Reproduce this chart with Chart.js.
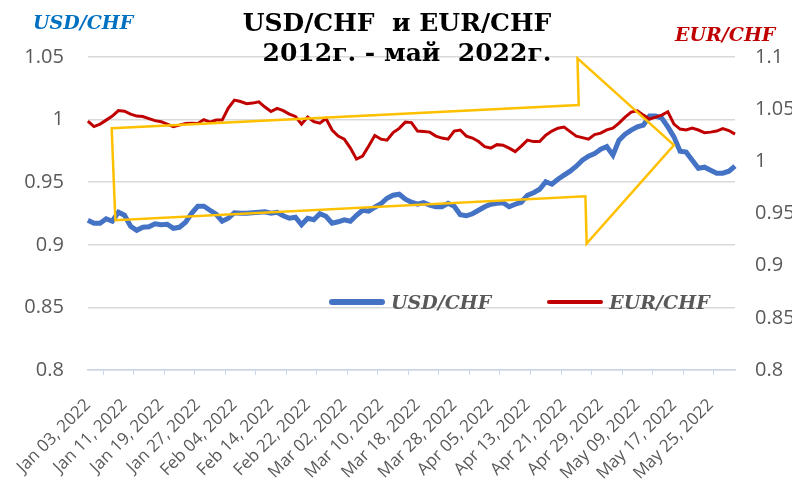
<!DOCTYPE html>
<html>
<head>
<meta charset="utf-8">
<script src="https://cdn.jsdelivr.net/npm/chart.js@4"></script>
<style>
  html, body { margin: 0; padding: 0; background: #fff; }
  #wrap { position: relative; width: 792px; height: 480px; overflow: hidden; }
  .ttl { position: absolute; width: 420px; text-align: center; white-space: pre;
         font: bold 25px "DejaVu Serif", serif; color: #000; line-height: 30px; }
  .axt { position: absolute; white-space: pre; font: italic bold 19px "DejaVu Serif", serif; line-height: 24px; }
  #legend { position: absolute; left: 329px; top: 291px; display: flex; align-items: center; }
  #legend .item { display: flex; align-items: center; }
  #legend .item + .item { margin-left: 56px; }
  #legend .swatch { width: 56px; border-radius: 3px; margin-right: 6px; }
  #legend .lbl { font: italic bold 19px "DejaVu Serif", serif; color: #595959; }
</style>
</head>
<body>
<div id="wrap">
  <canvas id="fxChart" width="792" height="480"></canvas>
  <div class="ttl" style="left:187px; top:8px;">USD/CHF  и EUR/CHF</div>
  <div class="ttl" style="left:197px; top:38px;">2012г. - май  2022г.</div>
  <div class="axt" style="left:33px; top:10px; color:#0070C0;">USD/CHF</div>
  <div class="axt" style="left:675px; top:22px; color:#C00000;">EUR/CHF</div>
  <div id="legend"></div>
</div>
<script>
// daily closes, Jan 03 2022 .. May 31 2022 (weekdays)
const usdChf = [
  0.9196, 0.9172, 0.9172, 0.9208, 0.9188, 0.9260, 0.9236, 0.9148, 0.9116, 0.9140,
  0.9144, 0.9168, 0.9160, 0.9164, 0.9132, 0.9140, 0.9180, 0.9252, 0.9308, 0.9308,
  0.9276, 0.9244, 0.9188, 0.9212, 0.9256, 0.9252, 0.9252, 0.9256, 0.9260, 0.9264,
  0.9252, 0.9260, 0.9232, 0.9212, 0.9220, 0.9160, 0.9212, 0.9200, 0.9248, 0.9228,
  0.9172, 0.9184, 0.9200, 0.9188, 0.9236, 0.9276, 0.9268, 0.9300, 0.9328, 0.9372,
  0.9396, 0.9404, 0.9364, 0.9340, 0.9324, 0.9336, 0.9316, 0.9304, 0.9304, 0.9332,
  0.9308, 0.9240, 0.9232, 0.9248, 0.9276, 0.9304, 0.9324, 0.9332, 0.9336, 0.9304,
  0.9324, 0.9340, 0.9396, 0.9416, 0.9444, 0.9504, 0.9484, 0.9524, 0.9556, 0.9588,
  0.9628, 0.9676, 0.9708, 0.9728, 0.9764, 0.9784, 0.9716, 0.9836, 0.9884, 0.9916,
  0.9942, 0.9956, 1.0028, 1.0028, 1.0012, 0.9942, 0.9862, 0.9748, 0.9740, 0.9676,
  0.9612, 0.9620, 0.9596, 0.9572, 0.9572, 0.9588, 0.9628
];
const eurChf = [
  1.0386, 1.0333, 1.0357, 1.0395, 1.0434, 1.0486, 1.0480, 1.0453, 1.0434, 1.0430,
  1.0410, 1.0390, 1.0380, 1.0357, 1.0333, 1.0347, 1.0362, 1.0366, 1.0362, 1.0400,
  1.0376, 1.0395, 1.0395, 1.0510, 1.0587, 1.0573, 1.0553, 1.0558, 1.0570, 1.0520,
  1.0477, 1.0507, 1.0486, 1.0453, 1.0430, 1.0357, 1.0424, 1.0381, 1.0366, 1.0410,
  1.0300, 1.0242, 1.0213, 1.0127, 1.0021, 1.0050, 1.0146, 1.0247, 1.0213, 1.0203,
  1.0275, 1.0316, 1.0376, 1.0371, 1.0290, 1.0285, 1.0280, 1.0242, 1.0223, 1.0213,
  1.0290, 1.0300, 1.0242, 1.0223, 1.0190, 1.0141, 1.0127, 1.0160, 1.0155, 1.0127,
  1.0093, 1.0146, 1.0203, 1.0189, 1.0189, 1.0251, 1.0290, 1.0318, 1.0328, 1.0285,
  1.0242, 1.0227, 1.0213, 1.0256, 1.0270, 1.0302, 1.0318, 1.0366, 1.0424, 1.0472,
  1.0484, 1.0443, 1.0405, 1.0424, 1.0443, 1.0475, 1.0357, 1.0309, 1.0300, 1.0318,
  1.0300, 1.0275, 1.0280, 1.0290, 1.0314, 1.0295, 1.0261
];

// the yellow arrow, in (category index, left-axis value) units
const arrowIdx = [3.9, 80.4, 80.2, 96.0, 81.7, 81.5, 4.5];
const arrowVal = [0.993, 1.0116, 1.049, 0.9796, 0.901, 0.9388, 0.9196];

// weekday labels "Jan 03, 2022"
const monthNames = ['Jan', 'Feb', 'Mar', 'Apr', 'May', 'Jun'];
const dates = [];
let d = new Date(2022, 0, 3);
while (dates.length < usdChf.length) {
    const wd = d.getDay();
    if (wd !== 0 && wd !== 6) {
        dates.push(monthNames[d.getMonth()] + ' ' + String(d.getDate()).padStart(2, '0') + ', 2022');
    }
    d.setDate(d.getDate() + 1);
}

const fmt = v => String(parseFloat(v.toFixed(2)));

const arrowPlugin = {
    id: 'arrow',
    afterDatasetsDraw(chart) {
        const ctx = chart.ctx, xs = chart.scales.x, ys = chart.scales.y;
        ctx.save();
        ctx.beginPath();
        arrowIdx.forEach((ix, k) => {
            const px = xs.getPixelForValue(ix), py = ys.getPixelForValue(arrowVal[k]);
            if (k === 0) ctx.moveTo(px, py); else ctx.lineTo(px, py);
        });
        ctx.closePath();
        ctx.strokeStyle = '#FFC000';
        ctx.lineWidth = 2.5;
        ctx.lineJoin = 'miter';
        ctx.stroke();
        ctx.restore();
    }
};

const tickFont = { family: '"Open Sans", sans-serif', size: 20 };

const chart = new Chart(document.getElementById('fxChart'), {
    type: 'line',
    data: {
        labels: dates,
        datasets: [{
            label: 'USD/CHF',
            data: usdChf,
            yAxisID: 'y',
            borderColor: '#4472C4',
            borderWidth: 5,
            pointRadius: 0,
            tension: 0,
            order: 2
        }, {
            label: 'EUR/CHF',
            data: eurChf,
            yAxisID: 'y1',
            borderColor: '#C00000',
            borderWidth: 3,
            pointRadius: 0,
            tension: 0,
            order: 1
        }]
    },
    options: {
        responsive: false,
        animation: false,
        layout: { padding: { top: 57, left: 0, right: 0, bottom: 0 } },
        plugins: { legend: { display: false }, tooltip: { enabled: false } },
        scales: {
            x: {
                offset: false,
                grid: {
                    drawOnChartArea: false,
                    offset: true,
                    tickLength: 5,
                    color: c => (c.index % 5 === 3 ? '#C9D5EA' : 'rgba(0,0,0,0)')
                },
                border: { color: '#C9D5EA', width: 1.5 },
                ticks: {
                    autoSkip: false,
                    minRotation: 45,
                    maxRotation: 45,
                    padding: 20,
                    color: '#595959',
                    font: { family: '"Open Sans", sans-serif', size: 17 },
                    callback: (v, i) => (i % 6 === 0 ? dates[i] : '')
                },
                afterFit: s => { s.height = 110; }
            },
            y: {
                position: 'left',
                min: 0.8,
                max: 1.05,
                grid: { color: '#D9D9D9', lineWidth: 1.5, drawTicks: false },
                border: { display: false },
                ticks: { stepSize: 0.05, padding: 24, color: '#595959', font: tickFont, callback: fmt },
                afterFit: s => { s.width = 86; }
            },
            y1: {
                position: 'right',
                min: 0.8,
                max: 1.1,
                grid: { display: false, drawTicks: false },
                border: { display: false },
                ticks: { stepSize: 0.05, padding: 20, color: '#595959', font: tickFont, callback: fmt },
                afterFit: s => { s.width = 57; }
            }
        }
    },
    plugins: [arrowPlugin]
});

// legend built from the datasets
const legend = document.getElementById('legend');
chart.data.datasets.forEach(ds => {
    const item = document.createElement('div');
    item.className = 'item';
    const sw = document.createElement('span');
    sw.className = 'swatch';
    sw.style.background = ds.borderColor;
    sw.style.height = (ds.borderWidth + 1) + 'px';
    const lbl = document.createElement('span');
    lbl.className = 'lbl';
    lbl.textContent = ds.label;
    item.appendChild(sw);
    item.appendChild(lbl);
    legend.appendChild(item);
});
</script>
</body>
</html>
